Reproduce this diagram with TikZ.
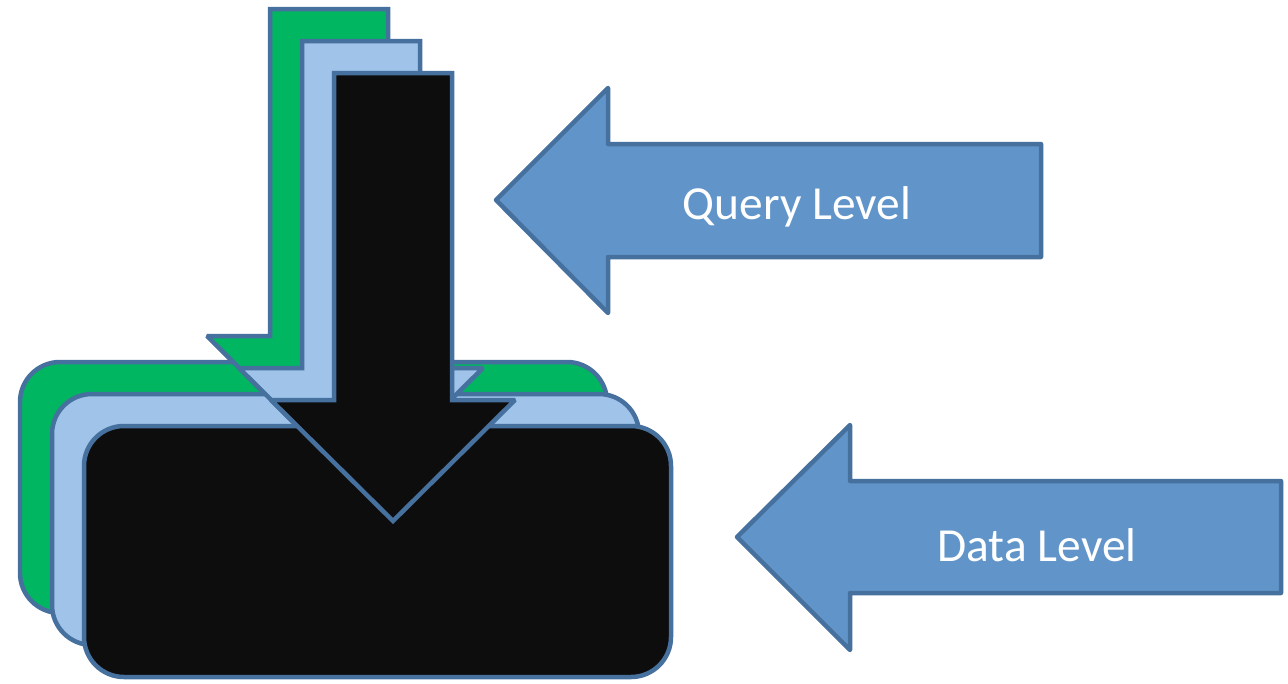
\documentclass[tikz,border=0pt]{standalone}
\usepackage{fontspec}
\setmainfont{Carlito}
\usepackage{xcolor}

\definecolor{layergreen}{HTML}{00B661}
\definecolor{layerblue}{HTML}{9FC3E9}
\definecolor{layerblack}{HTML}{0D0D0D}
\definecolor{edgeblue}{HTML}{46709E}
\definecolor{tagblue}{HTML}{6195C9}

\begin{document}
\begin{tikzpicture}[x=0.02cm, y=-0.02cm,
    slab/.style={draw=edgeblue, line width=0.09cm, rounded corners=0.8cm},
    drop/.style={draw=edgeblue, line width=0.09cm, miter limit=2},
    tag/.style={fill=tagblue, draw=edgeblue, line width=0.09cm, line join=round},
    tagtext/.style={text=white, font=\fontsize{27}{32}\selectfont}]

  \useasboundingbox (0,0) rectangle (1288,683);

  % ---- stacked layers, back to front: slab first, then its arrow ----
  \begin{scope}[shift={(-64,-64)}]
    \filldraw[slab, fill=layergreen] (84,426) rectangle (671,677);
    \filldraw[drop, fill=layergreen] (334,73) -- (452,73) -- (452,400) -- (515,400)
      -- (393,521) -- (271,400) -- (334,400) -- cycle;
  \end{scope}

  \begin{scope}[shift={(-32,-32)}]
    \filldraw[slab, fill=layerblue] (84,426) rectangle (671,677);
    \filldraw[drop, fill=layerblue] (334,73) -- (452,73) -- (452,400) -- (515,400)
      -- (393,521) -- (271,400) -- (334,400) -- cycle;
  \end{scope}

  % front layer
  \filldraw[slab, fill=layerblack] (84,426) rectangle (671,677);
  \filldraw[drop, fill=layerblack] (334,73) -- (452,73) -- (452,400) -- (515,400)
    -- (393,521) -- (271,400) -- (334,400) -- cycle;

  % ---- level markers on the right ----
  \filldraw[tag] (496,200) -- (608,88) -- (608,144) -- (1041,144) -- (1041,257)
    -- (608,257) -- (608,313) -- cycle;
  \node[tagtext] (query) at (797,207) {Query Level};

  \filldraw[tag] (737,537) -- (850,425) -- (850,481) -- (1281,481) -- (1281,593)
    -- (850,593) -- (850,650) -- cycle;
  \node[tagtext] (data) at (1037,545) {Data Level};

\end{tikzpicture}
\end{document}
